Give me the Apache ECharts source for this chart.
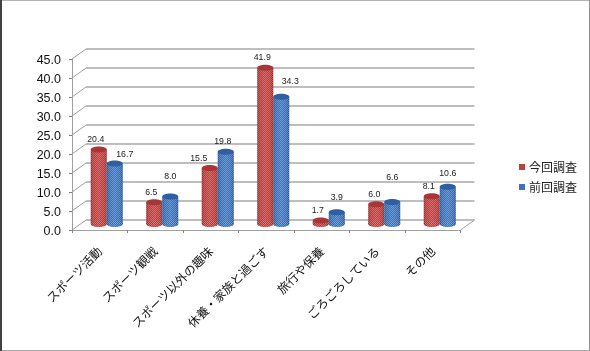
<!DOCTYPE html>
<html>
<head>
<meta charset="utf-8">
<script src="https://cdn.jsdelivr.net/npm/echarts@6/dist/echarts.min.js"></script>
<style>
  html, body { margin: 0; padding: 0; background: #fff; }
  #chart { width: 590px; height: 351px; }
</style>
</head>
<body>
<div id="chart"></div>
<script>
var categories = ['スポーツ活動', 'スポーツ観戦', 'スポーツ以外の趣味', '休養・家族と過ごす', '旅行や保養', 'ごろごろしている', 'その他'];
var currentValues = [20.4, 6.5, 15.5, 41.9, 1.7, 6.0, 8.1];
var previousValues = [16.7, 8.0, 19.8, 34.3, 3.9, 6.6, 10.6];
var yTicks = [0, 5, 10, 15, 20, 25, 30, 35, 40, 45];

// the labels were moved by hand in the original, so each one has its own shift [dx, lift]
var currentLabelShift = [[-3, 9], [-3, 9], [-11, 9], [-3, 9], [-3, 9], [-2, 9], [-3, 9]];
var previousLabelShift = [[10, 8.5], [0, 19], [-3, 9], [9, 14.5], [0, 13.5], [0, 24], [0, 12.5]];

var depthX = 14;
var depthY = 10;
var barWidth = 16;
var font = '"Noto Sans CJK JP", sans-serif';

// small checker so the bars get the dithered look of the original
function makeDither() {
  var c = document.createElement('canvas');
  c.width = 2;
  c.height = 2;
  var ctx = c.getContext('2d');
  ctx.fillStyle = 'rgba(255,255,255,0.16)';
  ctx.fillRect(0, 0, 1, 1);
  ctx.fillRect(1, 1, 1, 1);
  ctx.fillStyle = 'rgba(0,0,0,0.12)';
  ctx.fillRect(1, 0, 1, 1);
  ctx.fillRect(0, 1, 1, 1);
  return c;
}
var dither = makeDither();

function renderWall(params, api) {
  var y = api.coord([0, api.value(1)])[1];
  var left = params.coordSys.x;
  var right = left + params.coordSys.width;
  return {
    type: 'group',
    silent: true,
    children: [
      { type: 'line', shape: { x1: left, y1: y, x2: left + depthX, y2: y - depthY }, style: { stroke: '#a0a0a0', lineWidth: 1 } },
      { type: 'line', shape: { x1: left + depthX, y1: y - depthY, x2: right + depthX, y2: y - depthY }, style: { stroke: '#a8a8a8', lineWidth: 1.6 } }
    ]
  };
}

function renderFloorEdge(params, api) {
  var right = params.coordSys.x + params.coordSys.width;
  var y = api.coord([0, 0])[1];
  return {
    type: 'line',
    silent: true,
    shape: { x1: right, y1: y, x2: right + depthX, y2: y - depthY },
    style: { stroke: '#a0a0a0', lineWidth: 1 }
  };
}

function barRenderer(side, dark, mid, light, top, shift) {
  return function (params, api) {
    var i = api.value(0);
    var v = api.value(1);
    var p = api.coord([i, v]);
    var y0 = api.coord([i, 0])[1];
    var cx = p[0] + depthX / 2 + side * barWidth / 2;
    var rx = barWidth / 2;
    var baseY = y0 - 6;
    var topY = p[1] - 3;
    var fill = {
      type: 'linear', x: 0, y: 0, x2: 1, y2: 0,
      colorStops: [
        { offset: 0, color: dark },
        { offset: 0.15, color: mid },
        { offset: 0.5, color: light },
        { offset: 0.85, color: mid },
        { offset: 1, color: dark }
      ]
    };
    var d = shift[i];
    return {
      type: 'group',
      silent: true,
      children: [
        { type: 'ellipse', shape: { cx: cx, cy: baseY, rx: rx, ry: 3 }, style: { fill: fill } },
        { type: 'rect', shape: { x: cx - rx, y: topY, width: barWidth, height: baseY - topY }, style: { fill: fill } },
        { type: 'ellipse', shape: { cx: cx, cy: baseY, rx: rx, ry: 3 }, style: { fill: { image: dither, repeat: 'repeat' } } },
        { type: 'rect', shape: { x: cx - rx, y: topY, width: barWidth, height: baseY - topY }, style: { fill: { image: dither, repeat: 'repeat' } } },
        { type: 'ellipse', shape: { cx: cx, cy: topY, rx: rx, ry: 3 }, style: { fill: top } },
        {
          type: 'text',
          x: cx + d[0],
          y: p[1] - 4 - d[1],
          scaleX: 0.92,
          style: {
            x: 0,
            y: 0,
            text: v.toFixed(1),
            fill: '#222',
            font: '9.5px "Liberation Sans", Arial, sans-serif',
            align: 'center',
            verticalAlign: 'middle'
          }
        }
      ]
    };
  };
}

function toPoints(values) {
  return values.map(function (v, i) { return [i, v]; });
}

var chart = echarts.init(document.getElementById('chart'), null, { renderer: 'canvas' });
chart.setOption({
  animation: false,
  backgroundColor: '#fff',
  graphic: [
    { type: 'rect', shape: { x: 0, y: 0, width: 590, height: 1 }, style: { fill: '#b4b4b4' }, silent: true },
    { type: 'rect', shape: { x: 0, y: 350, width: 590, height: 1 }, style: { fill: '#a8a8a8' }, silent: true },
    { type: 'rect', shape: { x: 589, y: 0, width: 1, height: 351 }, style: { fill: '#909090' }, silent: true },
    { type: 'rect', shape: { x: 0, y: 0, width: 2, height: 351 }, style: { fill: '#404040' }, silent: true }
  ],
  legend: {
    data: ['今回調査', '前回調査'],
    orient: 'vertical',
    left: 519,
    top: 161,
    itemWidth: 6,
    itemHeight: 6,
    itemGap: 8,
    icon: 'rect',
    selectedMode: false,
    padding: 0,
    textStyle: { fontFamily: font, fontSize: 12, color: '#222', padding: [0, 0, 0, -1] }
  },
  grid: { left: 72, top: 59, width: 388.5, height: 171 },
  xAxis: {
    type: 'category',
    data: categories,
    axisLine: { lineStyle: { color: '#a0a0a0', width: 1 } },
    axisTick: { show: true, alignWithLabel: false, length: 3, lineStyle: { color: '#808080' } },
    axisLabel: {
      interval: 0,
      rotate: 45,
      margin: 19,
      fontFamily: font,
      fontSize: 12,
      color: '#111'
    }
  },
  yAxis: {
    type: 'value',
    min: 0,
    max: 45,
    interval: 5,
    axisLine: { show: true, lineStyle: { color: '#a0a0a0', width: 1 } },
    axisTick: { show: true, length: 3, lineStyle: { color: '#808080' } },
    splitLine: { show: false },
    axisLabel: {
      margin: 11,
      formatter: function (v) { return '{v|' + v.toFixed(1) + '}'; },
      rich: {
        v: {
          padding: [4, 0, 0, 0],
          fontFamily: '"Liberation Sans", Arial, sans-serif',
          fontSize: 12.5,
          color: '#111'
        }
      }
    }
  },
  series: [
    {
      type: 'custom',
      name: 'wall',
      renderItem: renderWall,
      data: yTicks.map(function (t) { return [0, t]; }),
      encode: { x: 0, y: 1 },
      z: 1
    },
    {
      type: 'custom',
      name: 'floor',
      renderItem: renderFloorEdge,
      data: [[0, 0]],
      encode: { x: 0, y: 1 },
      z: 1
    },
    {
      type: 'custom',
      name: '今回調査',
      itemStyle: { color: '#c0403f' },
      renderItem: barRenderer(-1, '#a03434', '#c84444', '#d25250', '#a83636', currentLabelShift),
      data: toPoints(currentValues),
      encode: { x: 0, y: 1 },
      z: 3
    },
    {
      type: 'custom',
      name: '前回調査',
      itemStyle: { color: '#3f74bd' },
      renderItem: barRenderer(1, '#2e5f9f', '#4279c6', '#5088d0', '#2f5f9f', previousLabelShift),
      data: toPoints(previousValues),
      encode: { x: 0, y: 1 },
      z: 4
    }
  ]
});
</script>
</body>
</html>
